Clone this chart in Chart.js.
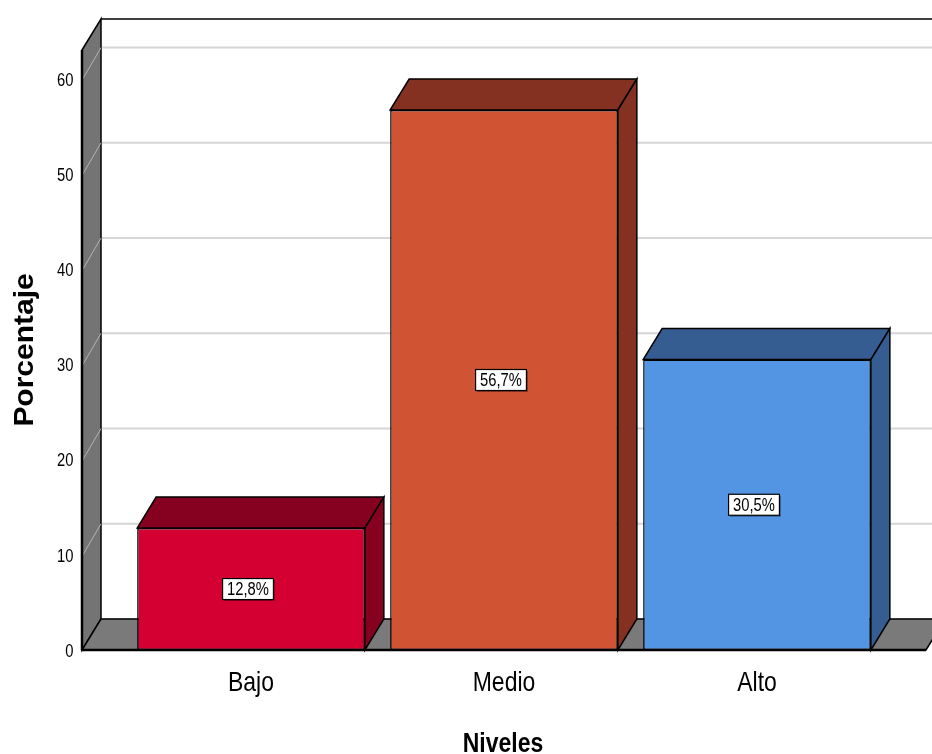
<!DOCTYPE html>
<html>
<head>
<meta charset="utf-8">
<script src="https://cdn.jsdelivr.net/npm/chart.js@4.4.0/dist/chart.umd.min.js"></script>
<style>
html, body { margin: 0; padding: 0; background: #fff; }
#wrap { width: 932px; height: 754px; }
</style>
</head>
<body>
<div id="wrap"><canvas id="chart"></canvas></div>
<script>
const categories = ['Bajo', 'Medio', 'Alto'];
const percentages = [12.8, 56.7, 30.5];
const valueLabels = ['12,8%', '56,7%', '30,5%'];
const yTickValues = [0, 10, 20, 30, 40, 50, 60];
const yTickLabels = ['0', '10', '20', '30', '40', '50', '60'];
const frontColors = ['#d50032', '#d05434', '#5495e3'];
const shadeColors = ['#860020', '#843121', '#355d91'];

const FONT = "'Liberation Sans', Arial, sans-serif";
const NARROW = 0.82;       // la fuente original es estrecha
const DX = 19, DY = -31;   // profundidad del efecto 3D
const PAD = 42.5;          // el suelo sobresale de la banda de categorias

function poly(ctx, pts) {
    ctx.beginPath();
    ctx.moveTo(pts[0][0], pts[0][1]);
    for (let i = 1; i < pts.length; i++) ctx.lineTo(pts[i][0], pts[i][1]);
    ctx.closePath();
}

// texto con compresion horizontal
function drawText(ctx, text, x, y, size, bold, align, baseline, sx, rot) {
    ctx.save();
    ctx.translate(x, y);
    if (rot) ctx.rotate(rot);
    ctx.scale(sx, 1);
    ctx.font = (bold ? 'bold ' : '') + size + 'px ' + FONT;
    ctx.fillStyle = '#000';
    ctx.textAlign = align;
    ctx.textBaseline = baseline;
    ctx.fillText(text, 0, 0);
    ctx.restore();
}

const box3d = {
    id: 'box3d',
    beforeDatasetsDraw(chart) {
        const ctx = chart.ctx, a = chart.chartArea, y = chart.scales.y;
        const L = a.left - PAD, R = a.right + PAD, T = a.top, B = a.bottom;
        ctx.save();
        // lineas de la pared del fondo
        ctx.strokeStyle = '#d6d6d6';
        ctx.lineWidth = 2;
        yTickValues.forEach(v => {
            const py = y.getPixelForValue(v) + DY;
            ctx.beginPath(); ctx.moveTo(L + DX, py); ctx.lineTo(R + DX + 20, py); ctx.stroke();
        });
        ctx.strokeStyle = '#000';
        ctx.lineWidth = 1.5;
        ctx.beginPath(); ctx.moveTo(L + DX, T + DY); ctx.lineTo(R + DX + 20, T + DY); ctx.stroke();
        // pared izquierda
        ctx.fillStyle = '#747474';
        poly(ctx, [[L, T], [L + DX, T + DY], [L + DX, B + DY], [L, B]]);
        ctx.fill(); ctx.stroke();
        ctx.strokeStyle = '#b4b4b4';
        ctx.lineWidth = 1;
        yTickValues.forEach(v => {
            if (v === 0) return;
            const py = y.getPixelForValue(v);
            ctx.beginPath(); ctx.moveTo(L + 1, py); ctx.lineTo(L + DX, py + DY); ctx.stroke();
        });
        // suelo
        ctx.fillStyle = '#7a7a7a';
        ctx.strokeStyle = '#000';
        ctx.lineWidth = 1.5;
        poly(ctx, [[L, B], [L + DX, B + DY], [R + DX, B + DY], [R, B]]);
        ctx.fill(); ctx.stroke();
        ctx.lineWidth = 2.5;
        ctx.beginPath(); ctx.moveTo(L, B); ctx.lineTo(R, B); ctx.stroke();
        ctx.beginPath(); ctx.moveTo(L, T); ctx.lineTo(L, B); ctx.stroke();
        ctx.restore();
    },
    afterDatasetsDraw(chart) {
        const ctx = chart.ctx;
        const meta = chart.getDatasetMeta(0);
        ctx.save();
        meta.data.forEach((bar, i) => {
            const p = bar.getProps(['x', 'y', 'base', 'width'], true);
            const l = p.x - p.width / 2, r = p.x + p.width / 2;
            ctx.fillStyle = shadeColors[i];
            ctx.strokeStyle = '#000';
            ctx.lineWidth = 1.5;
            poly(ctx, [[l, p.y], [l + DX, p.y + DY], [r + DX, p.y + DY], [r, p.y]]);
            ctx.fill(); ctx.stroke();
            poly(ctx, [[r, p.y], [r + DX, p.y + DY], [r + DX, p.base + DY], [r, p.base]]);
            ctx.fill(); ctx.stroke();

            // etiqueta del valor
            ctx.font = '18px ' + FONT;
            const tw = ctx.measureText(valueLabels[i]).width * NARROW;
            const bw = tw + 9, bh = 21;
            const cx = p.x - 3, cy = (p.y + p.base) / 2;
            ctx.fillStyle = 'rgba(0,0,0,0.35)';
            ctx.fillRect(cx - bw / 2 + 1.5, cy - bh / 2 + 1.5, bw, bh);
            ctx.fillStyle = '#fff';
            ctx.fillRect(cx - bw / 2, cy - bh / 2, bw, bh);
            ctx.lineWidth = 1.2;
            ctx.strokeRect(cx - bw / 2, cy - bh / 2, bw, bh);
            drawText(ctx, valueLabels[i], cx, cy + 1, 18, false, 'center', 'middle', NARROW);
        });
        ctx.restore();
    },
    afterDraw(chart) {
        const ctx = chart.ctx, a = chart.chartArea;
        const x = chart.scales.x, y = chart.scales.y;
        // etiquetas del eje Y
        yTickValues.forEach((v, i) => {
            drawText(ctx, yTickLabels[i], a.left - 51, y.getPixelForValue(v) + 2, 18, false, 'right', 'middle', NARROW);
        });
        // categorias
        categories.forEach((c, i) => {
            drawText(ctx, c, x.getPixelForTick(i), 691, 28, false, 'center', 'alphabetic', NARROW);
        });
        // titulos
        drawText(ctx, 'Niveles', (a.left + a.right) / 2 - 1, 752, 28, true, 'center', 'alphabetic', NARROW);
        drawText(ctx, 'Porcentaje', 33, (a.top + a.bottom) / 2, 27, true, 'center', 'alphabetic', 1.11, -Math.PI / 2);
    }
};

document.addEventListener('DOMContentLoaded', function () {
    const ctx = document.getElementById('chart').getContext('2d');
    new Chart(ctx, {
        type: 'bar',
        data: {
            labels: categories,
            datasets: [{
                label: 'Porcentaje',
                data: percentages,
                backgroundColor: frontColors,
                borderColor: '#000',
                borderWidth: 1.5,
                borderSkipped: false,
                categoryPercentage: 1,
                barPercentage: 0.9
            }]
        },
        options: {
            responsive: true,
            maintainAspectRatio: false,
            animation: false,
            layout: { padding: { top: 50, right: 48.5, left: 0, bottom: 0 } },
            plugins: {
                legend: { display: false },
                tooltip: { enabled: false }
            },
            scales: {
                x: {
                    grid: { display: false, drawTicks: false },
                    border: { display: false },
                    ticks: { display: false },
                    afterFit: function (scale) { scale.height = 104; }
                },
                y: {
                    min: 0,
                    max: 63,
                    grid: { display: false, drawTicks: false },
                    border: { display: false },
                    ticks: { display: false, stepSize: 10, includeBounds: false },
                    afterFit: function (scale) { scale.width = 124.5; }
                }
            }
        },
        plugins: [box3d]
    });
});
</script>
</body>
</html>
